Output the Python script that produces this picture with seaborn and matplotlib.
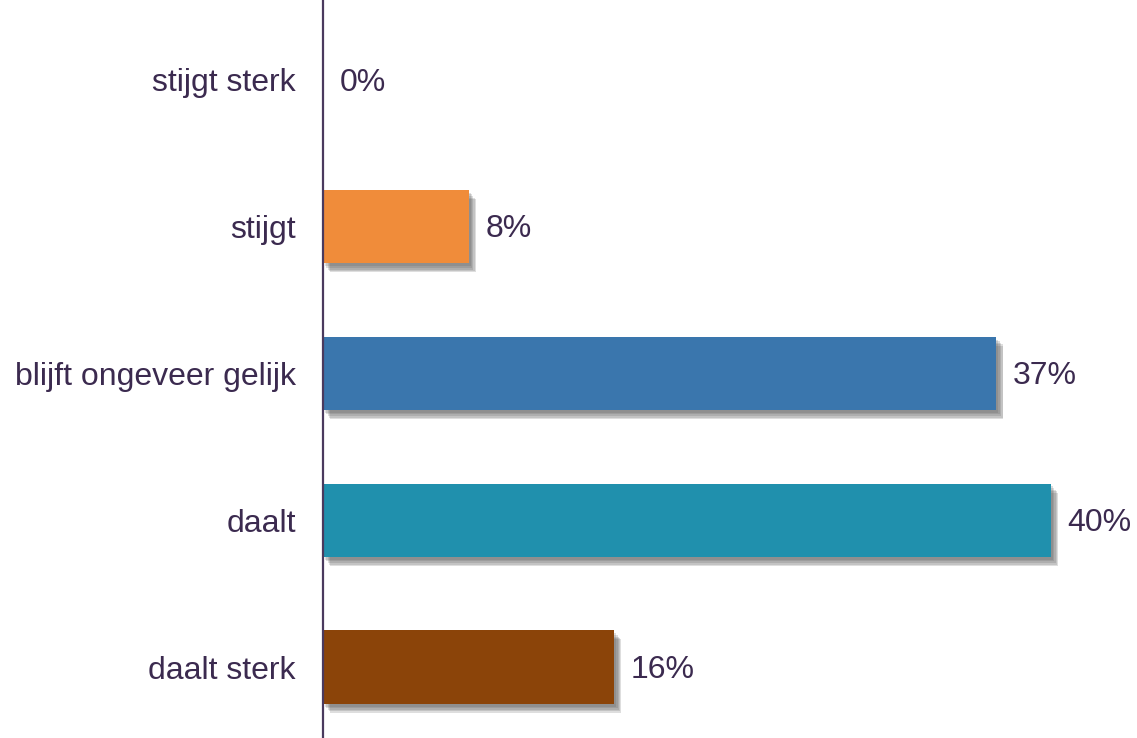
import matplotlib
matplotlib.use("Agg")
import matplotlib.pyplot as plt
import matplotlib.patheffects as pe
import seaborn as sns
import pandas as pd

categories = ["stijgt sterk", "stijgt", "blijft ongeveer gelijk", "daalt", "daalt sterk"]
values = [0, 8, 37, 40, 16]
labels = ["0%", "8%", "37%", "40%", "16%"]
colors = ["#F08C3A", "#F08C3A", "#3A76AD", "#2090AD", "#8B4409"]

sns.set_theme(style="white")
plt.rcParams["font.family"] = ["Liberation Sans", "DejaVu Sans"]
text_color = "#3B2A4F"

W, H = 1137, 738
fig = plt.figure(figsize=(W / 100, H / 100), dpi=100)
ax_left = 323 / W
ax = fig.add_axes([ax_left, 0, 1 - ax_left, 1])

df = pd.DataFrame({"cat": categories, "val": values})
sns.barplot(data=df, y="cat", x="val", hue="cat", palette=colors, orient="h",
            width=0.5, ax=ax, legend=False, saturation=1)

shadow = []
for off in [(1.5, -2), (2.5, -3), (3.5, -4.5), (4.5, -5.5), (5, -6.5)]:
    shadow.append(pe.SimplePatchShadow(offset=off, shadow_rgbFace="#5a5a5a", alpha=0.2))
for p in ax.patches:
    p.set_path_effects(shadow + [pe.Normal()])
    p.set_linewidth(0)

px_per_unit = 18.2
ax.set_xlim(0, (W - 323) / px_per_unit)
ax.set_ylim(4.483, -0.544)

for i, (v, lab) in enumerate(zip(values, labels)):
    ax.annotate(lab, xy=(v, i), xytext=(12, -2), textcoords="offset points",
                va="center", ha="left", fontsize=23, color=text_color)

ax.set_xlabel("")
ax.set_ylabel("")
ax.set_xticks([])
ax.tick_params(axis="y", length=0, pad=19.5, labelsize=23, labelcolor=text_color)
for s in ["top", "right", "bottom"]:
    ax.spines[s].set_visible(False)
ax.spines["left"].set_color("#4A3A5E")
ax.spines["left"].set_linewidth(1.6)

fig.savefig("out.png", dpi=100)
